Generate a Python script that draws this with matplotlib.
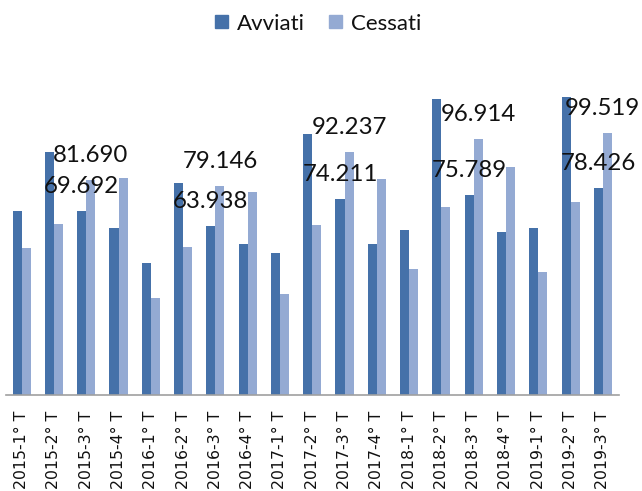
import matplotlib
matplotlib.use("Agg")
import matplotlib.pyplot as plt
from matplotlib.patches import Patch
import numpy as np

categories = ["2015-1° T", "2015-2° T", "2015-3° T", "2015-4° T",
              "2016-1° T", "2016-2° T", "2016-3° T", "2016-4° T",
              "2017-1° T", "2017-2° T", "2017-3° T", "2017-4° T",
              "2018-1° T", "2018-2° T", "2018-3° T", "2018-4° T",
              "2019-1° T", "2019-2° T", "2019-3° T"]
avviati = [69600, 92270, 69692, 63410,
           50010, 80380, 63938, 57070,
           53920, 98990, 74211, 57070,
           62380, 112280, 75789, 61890,
           63410, 112880, 78426]
cessati = [55550, 64810, 81690, 82390,
           36720, 55930, 79146, 77080,
           38240, 64440, 92237, 81900,
           47580, 71270, 96914, 86310,
           46700, 73170, 99519]
series_names = ["Avviati", "Cessati"]

col_a = "#4571A9"
col_c = "#94AAD3"

W, H = 642, 491
fig = plt.figure(figsize=(W / 100, H / 100), dpi=100)
ax = fig.add_axes([5.5 / W, (H - 394.7) / H, 613.5 / W, 316 / H])

x = np.arange(len(categories))
bw = 0.28
bars_a = ax.bar(x - bw / 2, avviati, bw, color=col_a, linewidth=0)
bars_c = ax.bar(x + bw / 2, cessati, bw, color=col_c, linewidth=0)

ax.set_xlim(-0.5, len(categories) - 0.5)
ax.set_ylim(0, 120000)
for s in ["top", "right", "left"]:
    ax.spines[s].set_visible(False)
ax.spines["bottom"].set_color("#A0A0A0")
ax.spines["bottom"].set_linewidth(1.2)
ax.set_yticks([])
ax.set_xticks(x)
ax.set_xticklabels(categories, rotation=90, fontsize=11.3,
                   family="DejaVu Sans", color="#111111")
ax.tick_params(axis="x", length=0, pad=11.5)

def fmt(v):
    return f"{v:,}".replace(",", ".")

label_font = dict(fontsize=17.3, family="Lato", color="#111111")
for i, cat in enumerate(categories):
    if "3°" in cat:
        for vals, off in ((avviati, -bw / 2), (cessati, bw / 2)):
            dx = 0
            if i == len(categories) - 1 and vals is cessati:
                dx = -5
            ax.annotate(fmt(vals[i]), xy=(i + off, vals[i]),
                        xytext=(dx, 18), textcoords="offset pixels",
                        ha="center", va="baseline", annotation_clip=False,
                        **label_font)

handles = [Patch(facecolor=col_a, edgecolor=col_a),
           Patch(facecolor=col_c, edgecolor=col_c)]
fig.legend(handles, series_names, loc="center", ncol=2, frameon=False,
           bbox_to_anchor=(318 / W, 1 - 23.5 / H),
           prop=dict(family="Lato", size=16),
           handlelength=0.57, handleheight=0.57, handletextpad=0.4,
           columnspacing=1.1, labelcolor="#111111")

fig.savefig("out.png", dpi=100)
